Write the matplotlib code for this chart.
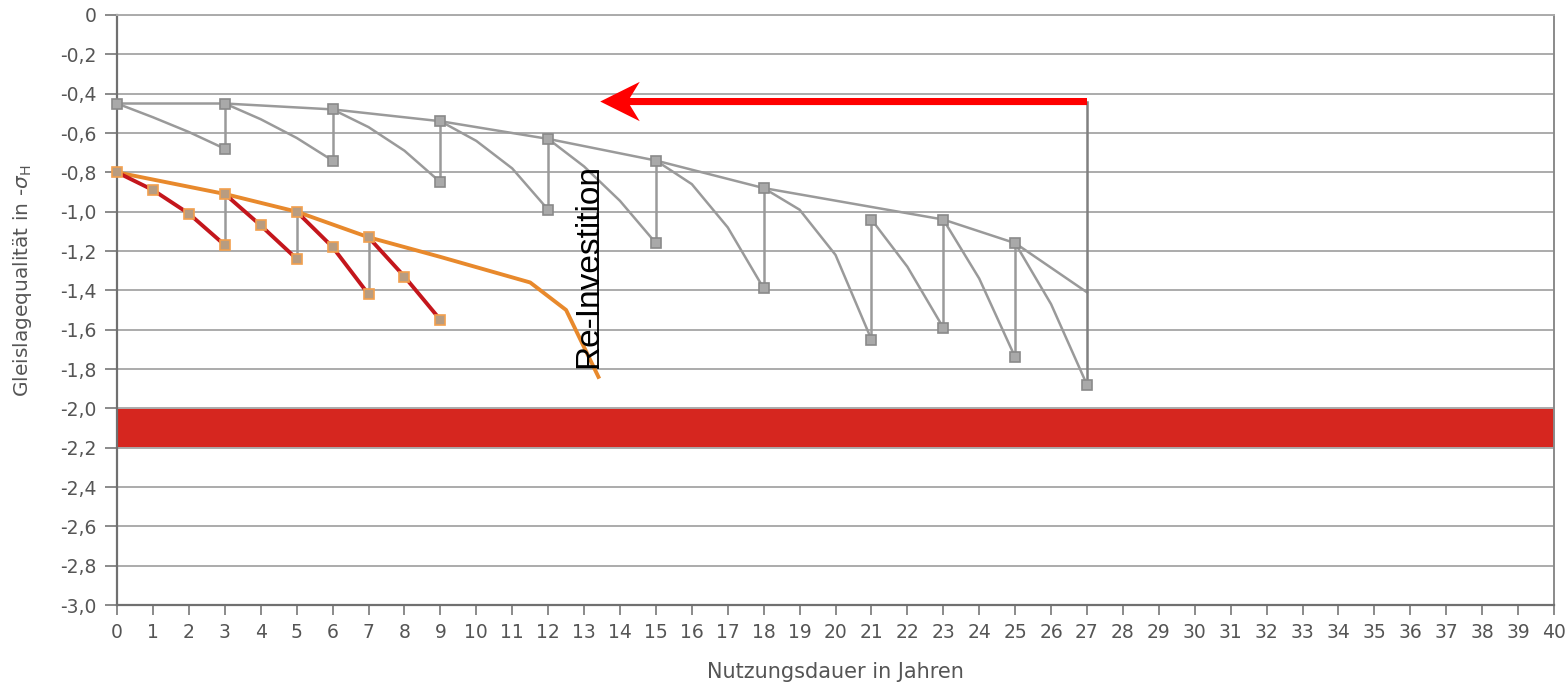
import numpy as np
import matplotlib
matplotlib.use("Agg")
import matplotlib.pyplot as plt

# ---- data ----
years = list(range(0, 41))
y_ticks = [0, -0.2, -0.4, -0.6, -0.8, -1.0, -1.2, -1.4, -1.6, -1.8, -2.0,
           -2.2, -2.4, -2.6, -2.8, -3.0]
y_tick_labels = ["0", "-0,2", "-0,4", "-0,6", "-0,8", "-1,0", "-1,2", "-1,4",
                 "-1,6", "-1,8", "-2,0", "-2,2", "-2,4", "-2,6", "-2,8", "-3,0"]

# grey scenario: envelope after each maintenance
grey_env_yr = [0, 3, 6, 9, 12, 15, 18, 23, 25, 27]
grey_env_q = [-0.45, -0.45, -0.48, -0.54, -0.63, -0.74, -0.88, -1.04, -1.16, -1.41]

# grey scenario: degradation cycles (start -> yearly values -> end)
grey_cyc_yr = [[0, 1, 2, 3], [3, 4, 5, 6], [6, 7, 8, 9], [9, 10, 11, 12],
               [12, 13, 14, 15], [15, 16, 17, 18], [18, 19, 20, 21],
               [21, 22, 23], [23, 24, 25], [25, 26, 27]]
grey_cyc_q = [[-0.45, -0.52, -0.595, -0.68],
              [-0.45, -0.53, -0.625, -0.74],
              [-0.48, -0.57, -0.69, -0.85],
              [-0.54, -0.64, -0.78, -0.99],
              [-0.63, -0.77, -0.945, -1.16],
              [-0.74, -0.86, -1.08, -1.39],
              [-0.88, -0.99, -1.22, -1.65],
              [-1.04, -1.28, -1.59],
              [-1.04, -1.34, -1.74],
              [-1.16, -1.47, -1.88]]
reinvest_yr = 27
reinvest_q = -0.44

# orange / red scenario
orange_yr = [0, 3, 5, 7, 9, 11.5, 12.5, 13.4]
orange_q = [-0.8, -0.91, -1.0, -1.13, -1.23, -1.36, -1.5, -1.84]
red_cyc_yr = [[0, 1, 2, 3], [3, 4, 5], [5, 6, 7], [7, 8, 9]]
red_cyc_q = [[-0.8, -0.89, -1.01, -1.17],
             [-0.91, -1.07, -1.24],
             [-1.0, -1.18, -1.42],
             [-1.13, -1.33, -1.55]]

band_lo, band_hi = -2.2, -2.0

# ---- styling ----
GRID = "#ababab"
GREY = "#9a9a9a"
TXT = "#555555"

fig = plt.figure(figsize=(15.67, 6.88), dpi=100)
ax = fig.add_axes([0.0747, 0.1206, 0.9170, 0.8576])
ax.set_xlim(0, 40)
ax.set_ylim(-3.0, 0)

ax.set_yticks(y_ticks)
ax.set_yticklabels(y_tick_labels)
ax.set_xticks(years)
ax.set_xticklabels([str(v) for v in years])
ax.grid(axis="y", color=GRID, lw=1.4, zorder=0)
ax.tick_params(axis="y", length=9, width=1.2, color="#777777", pad=6,
               labelsize=13.5, labelcolor=TXT)
ax.tick_params(axis="x", length=7, width=1.2, color="#777777", pad=6,
               labelsize=13.5, labelcolor=TXT)
for s in ["left", "bottom"]:
    ax.spines[s].set_color("#707070")
    ax.spines[s].set_linewidth(1.6)
ax.spines["right"].set_color("#8a8a8a")
ax.spines["right"].set_linewidth(1.4)
ax.spines["top"].set_color(GRID)
ax.spines["top"].set_linewidth(1.4)

# red limit band
ax.axhspan(band_lo, band_hi, color="#d6261f", lw=0, zorder=1)

# grey scenario
ax.plot(grey_env_yr, grey_env_q, color=GREY, lw=1.8, zorder=3)
for i, (xs, qs) in enumerate(zip(grey_cyc_yr, grey_cyc_q)):
    ax.plot(xs, qs, color=GREY, lw=1.8, zorder=3)
    # tamping jump back up at the end of the cycle
    if i + 1 < len(grey_cyc_yr):
        ax.plot([xs[-1], xs[-1]], [qs[-1], grey_cyc_q[i + 1][0]],
                color=GREY, lw=1.8, zorder=3)
last_q = grey_cyc_q[-1][-1]
ax.plot([reinvest_yr, reinvest_yr], [last_q, reinvest_q], color="#808080",
        lw=1.8, zorder=3)
mk_x = [c[0] for c in grey_cyc_yr] + [c[-1] for c in grey_cyc_yr]
mk_q = [c[0] for c in grey_cyc_q] + [c[-1] for c in grey_cyc_q]
ax.plot(mk_x, mk_q, ls="none", marker="s", ms=6.5, mfc="#a9a9a9",
        mec="#8a8a8a", mew=1.2, zorder=5, clip_on=False)

# orange / red scenario
for i, (xs, qs) in enumerate(zip(red_cyc_yr, red_cyc_q)):
    if i + 1 < len(red_cyc_yr):
        ax.plot([xs[-1], xs[-1]], [qs[-1], red_cyc_q[i + 1][0]],
                color=GREY, lw=1.8, zorder=3)
ax.plot(orange_yr, orange_q, color="#e8892c", lw=2.8, zorder=4)
for xs, qs in zip(red_cyc_yr, red_cyc_q):
    ax.plot(xs, qs, color="#c4161c", lw=2.8, zorder=4)
    ax.plot(xs, qs, ls="none", marker="s", ms=6.5, mfc="#b89c80",
            mec="#f2a04e", mew=1.2, zorder=5, clip_on=False)

# re-investment arrow and label
ax.arrow(reinvest_yr, reinvest_q, -(reinvest_yr - 13.45), 0,
         width=0.036, head_width=0.2, head_length=1.1, overhang=0.25,
         length_includes_head=True, color="#ff0000", lw=0, zorder=6)
ax.text(13.55, -1.795, "Re-Investition", rotation=90, ha="right", va="bottom",
        fontsize=24, family="Liberation Sans", color="black", zorder=7)
ax.plot([13.4, 13.4], [-0.8, -1.795], color="black", lw=1.3, zorder=7)

ax.set_xlabel("Nutzungsdauer in Jahren", fontsize=15, color=TXT, labelpad=14)
ax.set_ylabel(r"Gleislagequalität in -$\sigma_{\mathrm{H}}$", fontsize=14.5,
              color=TXT)
ax.yaxis.set_label_coords(-0.058, 0.55)

fig.savefig("out.png", dpi=100)
